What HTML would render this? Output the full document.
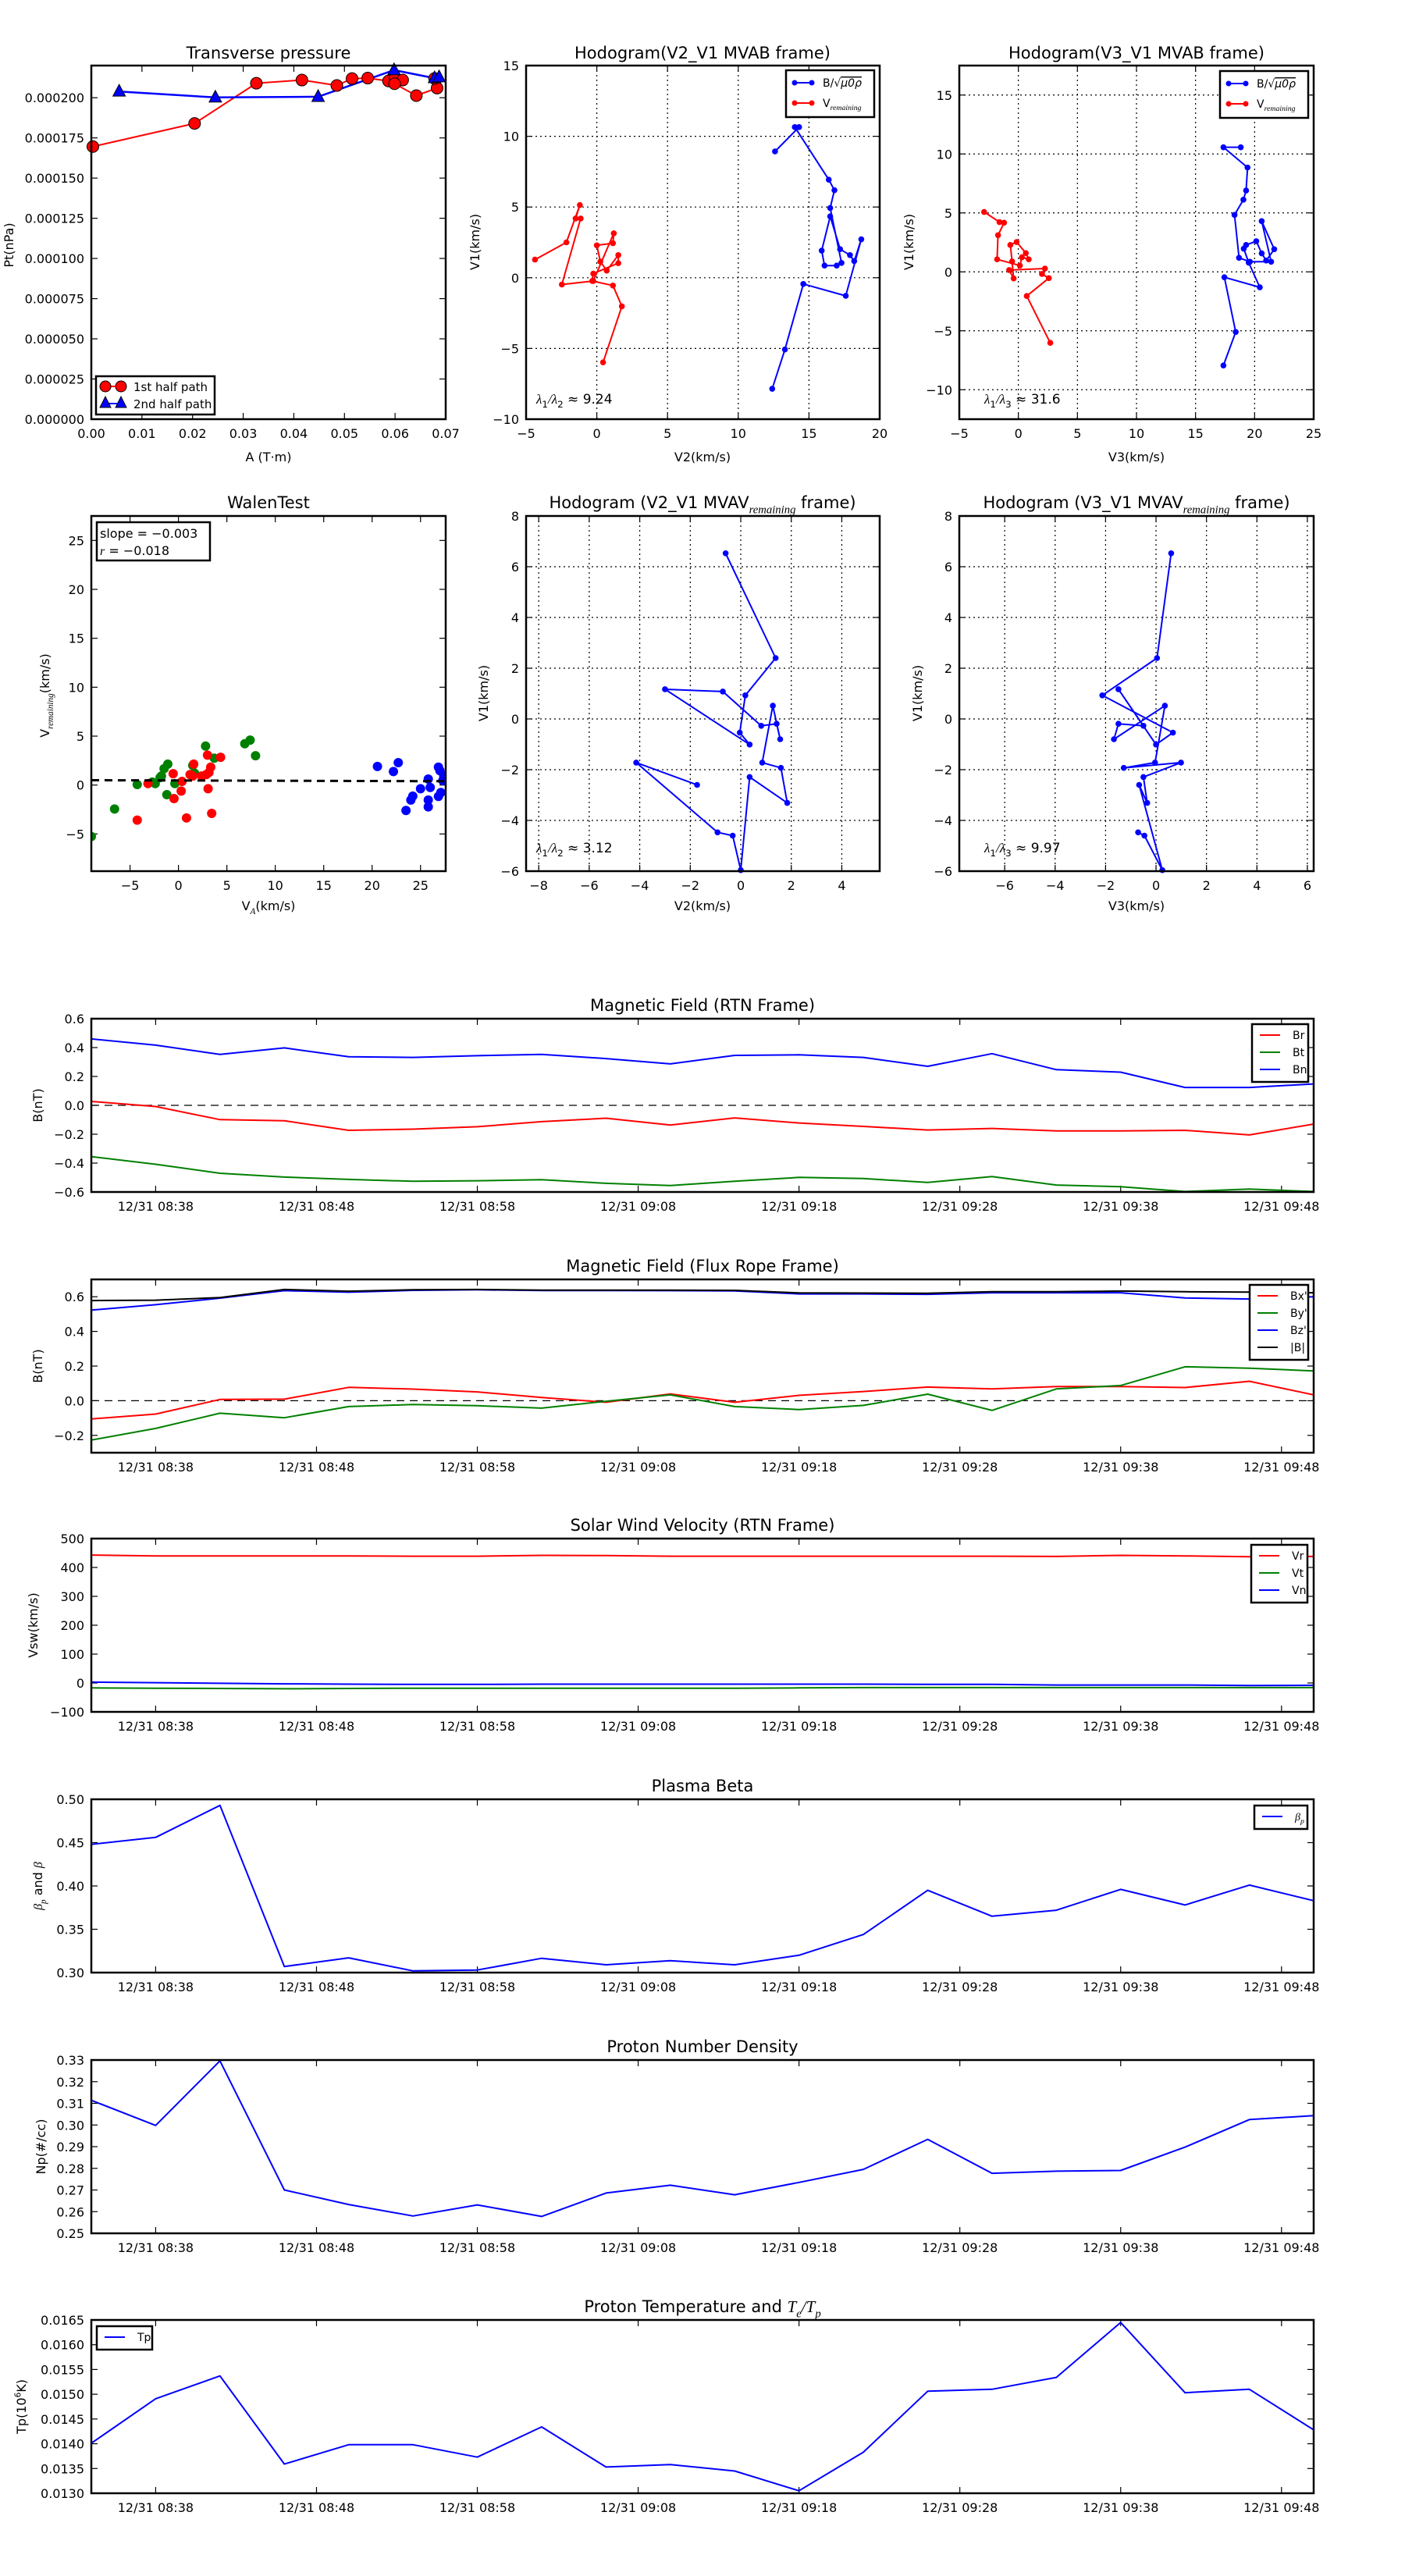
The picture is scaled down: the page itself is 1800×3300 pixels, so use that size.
<!DOCTYPE html>
<html><head><meta charset="utf-8"><title>Flux rope analysis</title>
<style>
html,body{margin:0;padding:0;background:#fff}
svg{display:block;font-family:"DejaVu Sans","Liberation Sans",sans-serif}
</style></head>
<body>
<svg id="fig" width="1800" height="3300" viewBox="0 0 1800 3300" xmlns="http://www.w3.org/2000/svg">
<rect width="1800" height="3300" fill="#fff"/>
</svg>
<script>
// ---------- DATA ----------
const ptA1 = [0.0003,0.0204,0.0326,0.0416,0.0485,0.0515,0.0546,0.0587,0.0600,0.0615,0.0599,0.0642,0.0683,0.0678];
const ptP1 = [0.0001696,0.000184,0.000209,0.000211,0.0002076,0.0002119,0.0002122,0.0002104,0.000212,0.000211,0.0002087,0.0002013,0.000206,0.000212];
const ptA2 = [0.0055,0.0245,0.0448,0.0598,0.0678,0.0687];
const ptP2 = [0.0002039,0.0002002,0.0002006,0.0002172,0.0002122,0.0002128];
const ptTicksX = [0,0.01,0.02,0.03,0.04,0.05,0.06,0.07];
const ptTicksY = [0,0.000025,0.00005,0.000075,0.0001,0.000125,0.00015,0.000175,0.0002];

const h1BlueV2 = [12.4,13.3,14.6,17.6,18.7,18.2,17.9,17.2,16.5,15.9,16.1,16.96,17.3,16.5,16.8,16.4,14.0,14.3,12.6];
const h1BlueV1 = [-7.85,-5.07,-0.44,-1.28,2.72,1.18,1.6,2.02,4.34,1.92,0.86,0.86,1.05,4.93,6.19,6.93,10.65,10.65,8.93];
const h1RedV2 = [0.44,1.77,1.14,-0.32,-0.25,1.52,1.52,0.7,0.25,0.0,1.14,1.2,-0.25,-2.47,-1.14,-1.5,-1.2,-2.15,-4.37];
const h1RedV1 = [-5.98,-2.02,-0.55,-0.23,0.29,1.03,1.6,0.5,1.14,2.29,2.44,3.14,-0.23,-0.48,4.19,4.19,5.14,2.5,1.28];

const h2BlueV3 = [17.36,18.4,17.44,20.44,19.5,19.08,19.28,20.14,20.6,20.98,21.66,20.6,21.4,19.6,18.68,18.3,19.05,19.28,19.4,17.36,18.83];
const h2BlueV1 = [-7.94,-5.1,-0.46,-1.31,0.78,1.97,2.28,2.6,1.57,0.96,1.92,4.3,0.86,0.86,1.19,4.83,6.12,6.9,8.85,10.57,10.57];
const h2RedV3 = [2.7,0.71,2.58,2.0,2.25,-0.78,-0.4,-0.53,-0.68,-0.15,0.63,0.88,0.3,0.13,-1.8,-1.72,-1.21,-1.6,-2.9];
const h2RedV1 = [-6.02,-2.05,-0.53,-0.18,0.28,0.15,-0.56,0.88,2.28,2.53,1.59,1.06,1.24,0.53,1.06,3.11,4.17,4.22,5.08];

const walenGX = [-9,-6.6,-4.26,-2.7,-1.76,-1.48,-1.1,-1.2,-0.37,1.48,1.67,2.8,3.7,6.85,7.4,7.96,-2.4,-1.9];
const walenGY = [-5.26,-2.45,0.06,0.3,0.92,1.68,2.14,-0.98,0.15,2.0,1.2,3.98,2.75,4.22,4.59,3.0,0.15,0.76];
const walenRX = [-4.26,-3.15,-0.55,-0.46,0.28,0.37,0.83,1.57,1.48,2.4,3.0,3.06,3.33,3.43,4.35,2.87,3.15,1.2];
const walenRY = [-3.58,0.15,1.16,-1.38,-0.61,0.37,-3.36,2.14,0.92,0.92,3.06,-0.37,1.83,-2.9,2.84,1.07,1.28,1.07];
const walenBX = [20.55,22.2,22.7,23.5,24.0,24.2,25.0,25.8,26.0,25.8,25.8,26.85,27.0,27.1,26.85,27.4,27.3];
const walenBY = [1.9,1.38,2.29,-2.6,-1.53,-1.13,-0.37,0.61,-0.24,-1.53,-2.23,1.83,1.47,-0.76,-1.16,0.92,0.46];
const walenSlope = -0.003;
const walenIntercept = 0.47;

const h3V2 = [-0.6,1.38,0.18,-0.04,0.35,-3.0,-0.71,0.81,1.42,1.56,1.27,0.85,1.59,1.84,0.35,0,-0.32,-0.92,-4.14,-1.73];
const h3V1 = [6.53,2.4,0.93,-0.54,-1.01,1.17,1.08,-0.27,-0.19,-0.8,0.52,-1.72,-1.93,-3.31,-2.29,-5.96,-4.6,-4.47,-1.72,-2.6];
const h4V3 = [0.6,0.04,-2.13,0.67,0,-1.49,-0.5,-1.49,-1.67,0.35,-0.04,-1.28,0.99,-0.5,-0.35,-0.67,0.25,-0.46,-0.71];
const h4V1 = [6.53,2.4,0.93,-0.54,-1.01,1.17,-0.27,-0.19,-0.8,0.52,-1.72,-1.93,-1.72,-2.29,-3.31,-2.6,-5.96,-4.6,-4.47];

const tsTimes = ['08:34','08:38','08:42','08:46','08:50','08:54','08:58','09:02','09:06','09:10','09:14','09:18','09:22','09:26','09:30','09:34','09:38','09:42','09:46','09:50'];
const tsTickLabels = ['08:38','08:48','08:58','09:08','09:18','09:28','09:38','09:48'];
const Br = [0.027,-0.008,-0.099,-0.107,-0.173,-0.165,-0.148,-0.113,-0.089,-0.136,-0.087,-0.122,-0.146,-0.171,-0.16,-0.177,-0.177,-0.173,-0.205,-0.13];
const Bt = [-0.355,-0.408,-0.47,-0.497,-0.513,-0.526,-0.522,-0.515,-0.54,-0.555,-0.526,-0.499,-0.507,-0.534,-0.493,-0.552,-0.563,-0.597,-0.58,-0.597];
const Bn = [0.46,0.417,0.353,0.398,0.336,0.332,0.344,0.353,0.324,0.287,0.346,0.35,0.332,0.27,0.358,0.247,0.23,0.124,0.124,0.148];
const Bx = [-0.105,-0.077,0.007,0.009,0.077,0.067,0.051,0.019,-0.009,0.039,-0.009,0.031,0.053,0.079,0.068,0.082,0.082,0.076,0.112,0.034];
const By = [-0.227,-0.16,-0.072,-0.098,-0.034,-0.022,-0.029,-0.043,-0.003,0.034,-0.034,-0.051,-0.027,0.038,-0.056,0.068,0.088,0.196,0.188,0.172];
const Bz = [0.523,0.554,0.592,0.635,0.626,0.637,0.64,0.636,0.636,0.635,0.634,0.616,0.616,0.614,0.623,0.623,0.623,0.593,0.587,0.6];
const Bmag = [0.578,0.58,0.595,0.642,0.632,0.64,0.642,0.638,0.638,0.638,0.637,0.622,0.621,0.62,0.629,0.629,0.633,0.629,0.627,0.623];
const Vr = [443,440,440,440,440,439,439,442,441,439,439,439,439,439,439,438,442,440,437,438];
const Vt = [-17,-18,-19,-20,-19,-18,-18,-18,-18,-18,-18,-17,-16,-16,-16,-16,-16,-16,-16,-16];
const Vn = [3,1,-1,-3,-4,-5,-5,-4,-4,-4,-4,-4,-4,-5,-5,-7,-7,-7,-9,-8];
const betaP = [0.448,0.456,0.493,0.307,0.317,0.302,0.303,0.3165,0.309,0.3137,0.309,0.32,0.344,0.395,0.365,0.372,0.396,0.378,0.401,0.383];
const Np = [0.3114,0.2998,0.3296,0.270,0.2633,0.258,0.2631,0.2578,0.2686,0.2722,0.2678,0.2735,0.2795,0.2934,0.2777,0.2787,0.279,0.2898,0.3025,0.3043];
const Tp = [0.01401,0.01491,0.01537,0.01359,0.01398,0.01398,0.01373,0.01434,0.01353,0.01358,0.01345,0.01305,0.01383,0.01506,0.0151,0.01534,0.01645,0.01503,0.0151,0.01428];

// ---------- HELPERS ----------
const NS = 'http://www.w3.org/2000/svg';
const svg = document.getElementById('fig');
function mk(tag, attrs, parent) {
  const e = document.createElementNS(NS, tag);
  for (const k in attrs) e.setAttribute(k, attrs[k]);
  (parent || svg).appendChild(e);
  return e;
}
function fmtMinus(s) { return String(s).replace('-', '\u2212'); }
function rich(parts, x, y, size, anchor, parent, rotate) {
  const t = mk('text', {x: x, y: y, 'font-size': size, 'text-anchor': anchor || 'middle', fill: '#000'}, parent);
  if (rotate) t.setAttribute('transform', 'rotate(-90 ' + x + ' ' + y + ')');
  let shift = 0;
  parts.forEach(p => {
    const s = p[0], k = p[1] || 'n';
    const ts = mk('tspan', {}, t);
    let target = 0;
    if (k === 'sub' || k === 'itsub') { target = size * 0.3; ts.setAttribute('font-size', size * 0.7); }
    if (k === 'sup') { target = -size * 0.4; ts.setAttribute('font-size', size * 0.65); }
    if (k === 'it' || k === 'itsub') { ts.setAttribute('font-style', 'italic'); ts.setAttribute('font-family', 'Liberation Serif, serif'); }
    if (k === 'over') { ts.setAttribute('text-decoration', 'overline'); ts.setAttribute('font-style', 'italic'); }
    ts.setAttribute('dy', target - shift);
    shift = target;
    ts.textContent = s;
  });
  return t;
}
function mkAxes(name, x0, x1, y0, y1, xd, yd) {
  const g = mk('g', {});
  
  
  return {g: g, x0: x0, x1: x1, y0: y0, y1: y1,
    sx: v => x0 + (v - xd[0]) / (xd[1] - xd[0]) * (x1 - x0),
    sy: v => y1 - (v - yd[0]) / (yd[1] - yd[0]) * (y1 - y0)};
}
function frame(A) {
  const r = mk('rect', {x: A.x0, y: A.y0, width: A.x1 - A.x0, height: A.y1 - A.y0, fill: 'none', stroke: '#000', 'stroke-width': 2.5}, A.g);
  
  
}
function clipFor(A, id) {
  const cp = mk('clipPath', {id: id}, A.g);
  mk('rect', {x: A.x0, y: A.y0, width: A.x1 - A.x0, height: A.y1 - A.y0}, cp);
  const g = mk('g', {'clip-path': 'url(#' + id + ')'}, A.g);
  
  
  return g;
}
function xticks(A, vals, labels, grid) {
  vals.forEach((v, i) => {
    const x = A.sx(v);
    if (grid) {
      const gl = mk('line', {x1: x, x2: x, y1: A.y0, y2: A.y1, stroke: '#000', 'stroke-width': 1.2, 'stroke-dasharray': '2,4'}, A.g);
      
      
    }
    const t1 = mk('line', {x1: x, x2: x, y1: A.y1, y2: A.y1 - 8, stroke: '#000', 'stroke-width': 1.2}, A.g);
    
    
    const t2 = mk('line', {x1: x, x2: x, y1: A.y0, y2: A.y0 + 8, stroke: '#000', 'stroke-width': 1.2}, A.g);
    
    
    const lb = mk('text', {x: x, y: A.y1 + 24, 'font-size': 16, 'text-anchor': 'middle', fill: '#000'}, A.g);
    lb.textContent = labels[i];
    
    
  });
}
function yticks(A, vals, labels, grid) {
  vals.forEach((v, i) => {
    const y = A.sy(v);
    if (grid) {
      const gl = mk('line', {x1: A.x0, x2: A.x1, y1: y, y2: y, stroke: '#000', 'stroke-width': 1.2, 'stroke-dasharray': '2,4'}, A.g);
      
      
    }
    const t1 = mk('line', {x1: A.x0, x2: A.x0 + 8, y1: y, y2: y, stroke: '#000', 'stroke-width': 1.2}, A.g);
    
    
    const t2 = mk('line', {x1: A.x1, x2: A.x1 - 8, y1: y, y2: y, stroke: '#000', 'stroke-width': 1.2}, A.g);
    
    
    const lb = mk('text', {x: A.x0 - 9, y: y + 6, 'font-size': 16, 'text-anchor': 'end', fill: '#000'}, A.g);
    lb.textContent = labels[i];
    
    
  });
}
function line(A, parent, xs, ys, color, name, w) {
  const p = mk('polyline', {points: xs.map((v, i) => A.sx(v).toFixed(1) + ',' + A.sy(ys[i]).toFixed(1)).join(' '), fill: 'none', stroke: color, 'stroke-width': w || 2, 'stroke-linejoin': 'round'}, parent || A.g);
  
  
  return p;
}
function dots(A, parent, xs, ys, color, name, r, edge) {
  xs.forEach((v, i) => {
    const c = mk('circle', {cx: A.sx(v), cy: A.sy(ys[i]), r: r, fill: color}, parent || A.g);
    if (edge) { c.setAttribute('stroke', '#000'); c.setAttribute('stroke-width', 1); }
    
    
  });
}
function tris(A, xs, ys, color, name) {
  xs.forEach((v, i) => {
    const x = A.sx(v), y = A.sy(ys[i]);
    const t = mk('polygon', {points: x + ',' + (y - 9) + ' ' + (x - 8) + ',' + (y + 6) + ' ' + (x + 8) + ',' + (y + 6), fill: color, stroke: '#000', 'stroke-width': 1}, A.g);
    
    
  });
}
function legendBox(x, y, w, h, name) {
  const g = mk('g', {});
  
  
  mk('rect', {x: x, y: y, width: w, height: h, fill: '#fff', stroke: '#000', 'stroke-width': 2.5}, g);
  return g;
}
function legendLine(g, x1, x2, y, color, withDots) {
  const l = mk('line', {x1: x1, x2: x2, y1: y, y2: y, stroke: color, 'stroke-width': 2}, g);
  
  
  if (withDots) {
    mk('circle', {cx: x1, cy: y, r: 3.5, fill: color}, g);
    mk('circle', {cx: x2, cy: y, r: 3.5, fill: color}, g);
  }
}
const hmm = s => { const p = s.split(':'); return (+p[0]) * 60 + (+p[1]); };
const t0 = hmm(tsTimes[0]);
const tsX = tsTimes.map(s => hmm(s) - t0);
const tsTickX = tsTickLabels.map(s => hmm(s) - t0);
const tsTickText = tsTickLabels.map(s => '12/31 ' + s);
const nums = (a, d) => a.map(v => fmtMinus(v.toFixed(d)));

// ---------- ROW 1 ----------
const R1 = [84, 537];
// Transverse pressure
{
  const A = mkAxes('transverse-pressure-chart', 117, 571, R1[0], R1[1], [0, 0.07], [0, 0.00022]);
  xticks(A, ptTicksX, nums(ptTicksX, 2));
  yticks(A, ptTicksY, ptTicksY.map(v => v.toFixed(6)));
  line(A, null, ptA1, ptP1, '#ff0000', 'first-half-path-line', 2);
  line(A, null, ptA2, ptP2, '#0000ff', 'second-half-path-line', 2.5);
  dots(A, null, ptA1, ptP1, '#ff0000', 'first-half-marker', 7.5, true);
  tris(A, ptA2, ptP2, '#0000ff', 'second-half-marker');
  frame(A);
  const tt = rich([['Transverse pressure']], 344, 75, 21, 'middle', A.g);  
  const xl = rich([['A (T\u00b7m)']], 344, 591, 16, 'middle', A.g);  
  const yl = rich([['Pt(nPa)']], 17, 314, 16, 'middle', A.g, true);  
  const lg = legendBox(123, 482, 152, 49, 'legend');
  legendLine(lg, 135, 155, 495, '#ff0000');
  mk('circle', {cx: 135, cy: 495, r: 7, fill: '#ff0000', stroke: '#000'}, lg);
  mk('circle', {cx: 155, cy: 495, r: 7, fill: '#ff0000', stroke: '#000'}, lg);
  legendLine(lg, 135, 155, 517, '#0000ff');
  mk('polygon', {points: '135,508 128,522 142,522', fill: '#0000ff', stroke: '#000'}, lg);
  mk('polygon', {points: '155,508 148,522 162,522', fill: '#0000ff', stroke: '#000'}, lg);
  const l1 = rich([['1st half path']], 171, 501, 15, 'start', lg);  
  const l2 = rich([['2nd half path']], 171, 523, 15, 'start', lg);  
}
function hodoLegend(x, y) {
  const lg = legendBox(x, y, 113, 60, 'legend');
  legendLine(lg, x + 11, x + 33, y + 16, '#0000ff', true);
  legendLine(lg, x + 11, x + 33, y + 42, '#ff0000', true);
  const a = rich([['B/\u221a'], ['\u03bc0\u03c1', 'over']], x + 47, y + 21, 14, 'start', lg);  
  const b = rich([['V'], ['remaining', 'itsub']], x + 47, y + 47, 14, 'start', lg);  
}
// Hodogram V2_V1 MVAB
{
  const xT = [-5, 0, 5, 10, 15, 20], yT = [-10, -5, 0, 5, 10, 15];
  const A = mkAxes('hodogram-v2-v1-mvab', 674, 1127, R1[0], R1[1], [-5, 20], [-10, 15]);
  xticks(A, xT, xT.map(fmtMinus), true);
  yticks(A, yT, yT.map(fmtMinus), true);
  line(A, null, h1BlueV2, h1BlueV1, '#0000ff', 'b-alfven-path', 2);
  dots(A, null, h1BlueV2, h1BlueV1, '#0000ff', 'b-alfven-point', 3.8);
  line(A, null, h1RedV2, h1RedV1, '#ff0000', 'v-remaining-path', 2);
  dots(A, null, h1RedV2, h1RedV1, '#ff0000', 'v-remaining-point', 3.8);
  frame(A);
  const tt = rich([['Hodogram(V2_V1 MVAB frame)']], 900, 75, 21, 'middle', A.g);  
  const xl = rich([['V2(km/s)']], 900, 591, 16, 'middle', A.g);  
  const yl = rich([['V1(km/s)']], 614, 310, 16, 'middle', A.g, true);  
  const lm = rich([['\u03bb', 'it'], ['1', 'sub'], ['/', 'it'], ['\u03bb', 'it'], ['2', 'sub'], [' \u2248 9.24']], 687, 517, 17, 'start', A.g);  
  hodoLegend(1007, 90);
}
// Hodogram V3_V1 MVAB
{
  const xT = [-5, 0, 5, 10, 15, 20, 25], yT = [-10, -5, 0, 5, 10, 15];
  const A = mkAxes('hodogram-v3-v1-mvab', 1229, 1683, R1[0], R1[1], [-5, 25], [-12.5, 17.5]);
  xticks(A, xT, xT.map(fmtMinus), true);
  yticks(A, yT, yT.map(fmtMinus), true);
  line(A, null, h2BlueV3, h2BlueV1, '#0000ff', 'b-alfven-path', 2);
  dots(A, null, h2BlueV3, h2BlueV1, '#0000ff', 'b-alfven-point', 3.8);
  line(A, null, h2RedV3, h2RedV1, '#ff0000', 'v-remaining-path', 2);
  dots(A, null, h2RedV3, h2RedV1, '#ff0000', 'v-remaining-point', 3.8);
  frame(A);
  const tt = rich([['Hodogram(V3_V1 MVAB frame)']], 1456, 75, 21, 'middle', A.g);  
  const xl = rich([['V3(km/s)']], 1456, 591, 16, 'middle', A.g);  
  const yl = rich([['V1(km/s)']], 1170, 310, 16, 'middle', A.g, true);  
  const lm = rich([['\u03bb', 'it'], ['1', 'sub'], ['/', 'it'], ['\u03bb', 'it'], ['3', 'sub'], [' \u2248 31.6']], 1261, 517, 17, 'start', A.g);  
  hodoLegend(1563, 91);
}

// ---------- ROW 2 ----------
const R2 = [661, 1116];
{
  const xT = [-5, 0, 5, 10, 15, 20, 25], yT = [-5, 0, 5, 10, 15, 20, 25];
  const A = mkAxes('walen-test-chart', 117, 571, R2[0], R2[1], [-9, 27.6], [-8.8, 27.5]);
  xticks(A, xT, xT.map(fmtMinus));
  yticks(A, yT, yT.map(fmtMinus));
  const pg = clipFor(A, 'clipWalen');
  dots(A, pg, walenGX, walenGY, '#008000', 'walen-point-green', 6);
  dots(A, pg, walenRX, walenRY, '#ff0000', 'walen-point-red', 6);
  dots(A, pg, walenBX, walenBY, '#0000ff', 'walen-point-blue', 6);
  const fitX = [-9, 27.6];
  const fl = line(A, pg, fitX, fitX.map(x => walenIntercept + walenSlope * x), '#000', 'walen-fit-line', 3);
  fl.setAttribute('stroke-dasharray', '10,7');
  frame(A);
  const tt = rich([['WalenTest']], 344, 651, 21, 'middle', A.g);  
  const xl = rich([['V'], ['A', 'itsub'], ['(km/s)']], 344, 1166, 16, 'middle', A.g);  
  const yl = rich([['V'], ['remaining', 'itsub'], ['(km/s)']], 63, 891, 16, 'middle', A.g, true);  
  const bx = legendBox(124, 669, 145, 49, 'fit-stats-box');
  const s1 = rich([['slope = ' + fmtMinus(walenSlope.toFixed(3))]], 128, 689, 16, 'start', bx);  
  const s2 = rich([['r', 'it'], [' = \u22120.018']], 128, 711, 16, 'start', bx);  
}
{
  const xT = [-8, -6, -4, -2, 0, 2, 4], yT = [-6, -4, -2, 0, 2, 4, 6, 8];
  const A = mkAxes('hodogram-v2-v1-mvav', 674, 1127, R2[0], R2[1], [-8.5, 5.5], [-6, 8]);
  xticks(A, xT, xT.map(fmtMinus), true);
  yticks(A, yT, yT.map(fmtMinus), true);
  line(A, null, h3V2, h3V1, '#0000ff', 'b-alfven-path', 2);
  dots(A, null, h3V2, h3V1, '#0000ff', 'b-alfven-point', 3.8);
  frame(A);
  const tt = rich([['Hodogram (V2_V1 MVAV'], ['remaining', 'itsub'], [' frame)']], 900, 651, 21, 'middle', A.g);  
  const xl = rich([['V2(km/s)']], 900, 1166, 16, 'middle', A.g);  
  const yl = rich([['V1(km/s)']], 625, 888, 16, 'middle', A.g, true);  
  const lm = rich([['\u03bb', 'it'], ['1', 'sub'], ['/', 'it'], ['\u03bb', 'it'], ['2', 'sub'], [' \u2248 3.12']], 687, 1092, 17, 'start', A.g);  
}
{
  const xT = [-6, -4, -2, 0, 2, 4, 6], yT = [-6, -4, -2, 0, 2, 4, 6, 8];
  const A = mkAxes('hodogram-v3-v1-mvav', 1229, 1683, R2[0], R2[1], [-7.8, 6.25], [-6, 8]);
  xticks(A, xT, xT.map(fmtMinus), true);
  yticks(A, yT, yT.map(fmtMinus), true);
  line(A, null, h4V3, h4V1, '#0000ff', 'b-alfven-path', 2);
  dots(A, null, h4V3, h4V1, '#0000ff', 'b-alfven-point', 3.8);
  frame(A);
  const tt = rich([['Hodogram (V3_V1 MVAV'], ['remaining', 'itsub'], [' frame)']], 1456, 651, 21, 'middle', A.g);  
  const xl = rich([['V3(km/s)']], 1456, 1166, 16, 'middle', A.g);  
  const yl = rich([['V1(km/s)']], 1181, 888, 16, 'middle', A.g, true);  
  const lm = rich([['\u03bb', 'it'], ['1', 'sub'], ['/', 'it'], ['\u03bb', 'it'], ['3', 'sub'], [' \u2248 9.97']], 1261, 1092, 17, 'start', A.g);  
}

// ---------- TIME SERIES ----------
function tsPanel(name, top, yd, yT, yLab, titleParts, ylabParts, ylabX, series, zero, id) {
  const A = mkAxes(name, 117, 1683, top, top + 222, [0, 76], yd);
  xticks(A, tsTickX, tsTickText);
  yticks(A, yT, yLab);
  const pg = clipFor(A, id);
  if (zero) {
    const z = line(A, pg, [0, 76], [0, 0], '#000', 'zero-line', 1.2);
    z.setAttribute('stroke-dasharray', '10,7');
  }
  series.forEach(s => line(A, pg, tsX, s[0], s[1], s[2], 2));
  frame(A);
  const tt = rich(titleParts, 900, top - 10, 21, 'middle', A.g);  
  const yl = rich(ylabParts, ylabX, top + 111, 16, 'middle', A.g, true);  
  return A;
}
function tsLegend(x, y, w, rows, labels, colors) {
  const lg = legendBox(x, y, w, rows * 22 + 8, 'legend');
  labels.forEach((lab, i) => {
    const cy = y + 14 + i * 22;
    legendLine(lg, x + 10, x + 36, cy, colors[i]);
    const t = rich(lab, x + 52, cy + 5, 14, 'start', lg);
    
    
  });
}
{
  const yT = [-0.6, -0.4, -0.2, 0, 0.2, 0.4, 0.6];
  tsPanel('magnetic-field-rtn-chart', 1305, [-0.6, 0.6], yT, nums(yT, 1), [['Magnetic Field (RTN Frame)']], [['B(nT)']], 54,
    [[Br, '#ff0000', 'br-line'], [Bt, '#008000', 'bt-line'], [Bn, '#0000ff', 'bn-line']], true, 'c1');
  tsLegend(1604, 1312, 72, 3, [[['Br']], [['Bt']], [['Bn']]], ['#ff0000', '#008000', '#0000ff']);
}
{
  const yT = [-0.2, 0, 0.2, 0.4, 0.6];
  tsPanel('magnetic-field-flux-rope-chart', 1639, [-0.3, 0.7], yT, nums(yT, 1), [['Magnetic Field (Flux Rope Frame)']], [['B(nT)']], 54,
    [[Bx, '#ff0000', 'bx-line'], [By, '#008000', 'by-line'], [Bz, '#0000ff', 'bz-line'], [Bmag, '#000000', 'b-magnitude-line']], true, 'c2');
  tsLegend(1601, 1646, 75, 4, [[["Bx'"]], [["By'"]], [["Bz'"]], [['|B|']]], ['#ff0000', '#008000', '#0000ff', '#000000']);
}
{
  const yT = [-100, 0, 100, 200, 300, 400, 500];
  tsPanel('solar-wind-velocity-chart', 1971, [-100, 500], yT, yT.map(fmtMinus), [['Solar Wind Velocity (RTN Frame)']], [['Vsw(km/s)']], 48,
    [[Vr, '#ff0000', 'vr-line'], [Vt, '#008000', 'vt-line'], [Vn, '#0000ff', 'vn-line']], false, 'c3');
  tsLegend(1603, 1979, 72, 3, [[['Vr']], [['Vt']], [['Vn']]], ['#ff0000', '#008000', '#0000ff']);
}
{
  const yT = [0.3, 0.35, 0.4, 0.45, 0.5];
  tsPanel('plasma-beta-chart', 2305, [0.3, 0.5], yT, nums(yT, 2), [['Plasma Beta']], [['\u03b2', 'it'], ['p', 'itsub'], [' and '], ['\u03b2', 'it']], 54,
    [[betaP, '#0000ff', 'beta-p-line']], false, 'c4');
  tsLegend(1607, 2313, 68, 1, [[['\u03b2', 'it'], ['p', 'itsub']]], ['#0000ff']);
}
{
  const yT = [0.25, 0.26, 0.27, 0.28, 0.29, 0.30, 0.31, 0.32, 0.33];
  tsPanel('proton-density-chart', 2639, [0.25, 0.33], yT, nums(yT, 2), [['Proton Number Density']], [['Np(#/cc)']], 58,
    [[Np, '#0000ff', 'np-line']], false, 'c5');
}
{
  const yT = [0.013, 0.0135, 0.014, 0.0145, 0.015, 0.0155, 0.016, 0.0165];
  tsPanel('proton-temperature-chart', 2972, [0.013, 0.0165], yT, nums(yT, 4), [['Proton Temperature and '], ['T', 'it'], ['e', 'itsub'], ['/', 'it'], ['T', 'it'], ['p', 'itsub']], [['Tp('], ['10'], ['6', 'sup'], ['K)']], 33,
    [[Tp, '#0000ff', 'tp-line']], false, 'c6');
  tsLegend(124, 2980, 71, 1, [[['Tp']]], ['#0000ff']);
}
</script>
</body></html>
